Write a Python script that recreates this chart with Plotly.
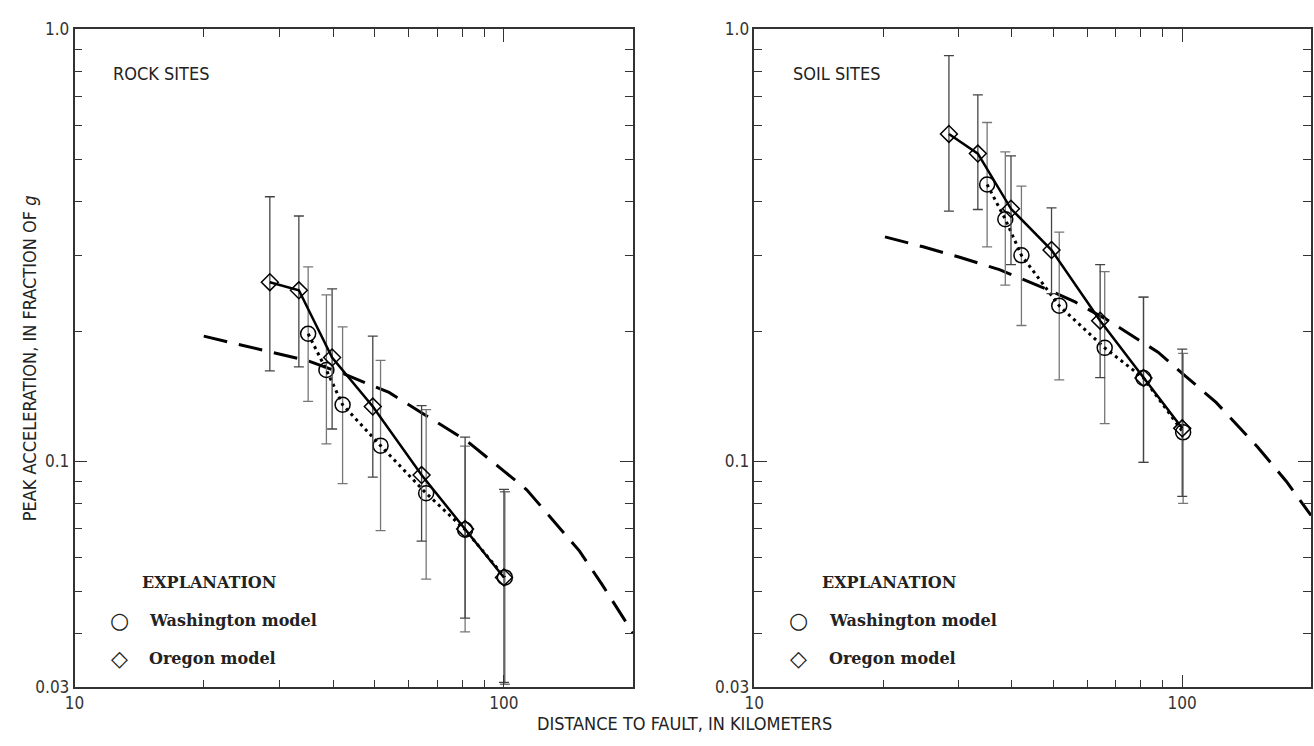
import plotly.graph_objects as go

# ---------------- data ----------------
oregon_dist = [28.5, 33.3, 39.8, 49.5, 64.3, 81.2, 100.0]
washington_dist = [35.0, 38.6, 42.1, 51.6, 65.9, 81.2, 100.5]

# Rock sites
rock_oregon = [0.260, 0.249, 0.174, 0.134, 0.093, 0.0698, 0.0539]
rock_oregon_hi = [0.41, 0.37, 0.251, 0.195, 0.1346, 0.1138, 0.0862]
rock_oregon_lo = [0.162, 0.1656, 0.1189, 0.092, 0.0654, 0.0434, 0.0308]
rock_wash = [0.1975, 0.1628, 0.1353, 0.1088, 0.0844, 0.0695, 0.0539]
rock_wash_hi = [0.282, 0.243, 0.2049, 0.1714, 0.1318, 0.1085, 0.0851]
rock_wash_lo = [0.1377, 0.1098, 0.0889, 0.0692, 0.0534, 0.0403, 0.0305]
rock_model_dist = [20, 35, 42, 54, 64, 82, 100, 113, 150, 169, 200]
rock_model = [0.195, 0.171, 0.160, 0.1445, 0.130, 0.1115, 0.095, 0.086, 0.062, 0.052, 0.040]

# Soil sites
soil_oregon = [0.573, 0.516, 0.3845, 0.3086, 0.2118, 0.156, 0.1193]
soil_oregon_hi = [0.87, 0.7055, 0.5096, 0.3865, 0.2855, 0.2402, 0.182]
soil_oregon_lo = [0.3798, 0.383, 0.2855, 0.2445, 0.1564, 0.0995, 0.083]
soil_wash = [0.4377, 0.3637, 0.300, 0.2293, 0.1832, 0.156, 0.1168]
soil_wash_hi = [0.609, 0.521, 0.434, 0.3396, 0.275, 0.2402, 0.178]
soil_wash_lo = [0.314, 0.256, 0.2064, 0.1545, 0.1224, 0.0995, 0.080]
soil_model_dist = [20.2, 24.8, 30.2, 37.4, 47.1, 56.2, 67.2, 80.3, 87.8, 100, 120, 150, 175, 200]
soil_model = [0.331, 0.314, 0.297, 0.278, 0.253, 0.234, 0.212, 0.190, 0.179, 0.160, 0.137, 0.108, 0.090, 0.075]

x_tick_vals = [10, 100]
x_tick_text = ["10", "100"]
x_minor = [20, 30, 40, 50, 60, 70, 80, 90, 200]
y_tick_vals = [0.03, 0.1, 1.0]
y_tick_text = ["0.03", "0.1", "1.0"]
y_minor = [0.04, 0.05, 0.06, 0.07, 0.08, 0.09, 0.2, 0.3, 0.4, 0.5, 0.6, 0.7, 0.8, 0.9]

panel_titles = ["ROCK SITES", "SOIL SITES"]

# ---------------- figure ----------------
W, H = 1314, 746
NARROW = "Liberation Sans Narrow, DejaVu Sans Condensed, Arial Narrow, sans-serif"
SERIF = "DejaVu Serif, Liberation Serif, serif"

fig = go.Figure()

def add_panel(xa, ya, o, o_hi, o_lo, w, w_hi, w_lo, md, mv):
    fig.add_trace(go.Scatter(
        x=md, y=mv, mode="lines", xaxis=xa, yaxis=ya,
        line=dict(color="black", width=3, dash="24px,12px"), showlegend=False))
    fig.add_trace(go.Scatter(
        x=washington_dist, y=w, mode="lines+markers", xaxis=xa, yaxis=ya,
        line=dict(color="black", width=3, dash="3px,4px"),
        marker=dict(symbol="circle-open", size=15, color="black", line=dict(width=1.5)),
        error_y=dict(type="data", symmetric=False,
                     array=[h - v for h, v in zip(w_hi, w)],
                     arrayminus=[v - l for v, l in zip(w, w_lo)],
                     color="#777777", thickness=1.3, width=5),
        showlegend=False))
    fig.add_trace(go.Scatter(
        x=oregon_dist, y=o, mode="lines+markers", xaxis=xa, yaxis=ya,
        line=dict(color="black", width=2.5),
        marker=dict(symbol="diamond-open", size=13, color="black", line=dict(width=1.5)),
        error_y=dict(type="data", symmetric=False,
                     array=[h - v for h, v in zip(o_hi, o)],
                     arrayminus=[v - l for v, l in zip(o, o_lo)],
                     color="#444444", thickness=1.3, width=5),
        showlegend=False))

add_panel("x", "y", rock_oregon, rock_oregon_hi, rock_oregon_lo,
          rock_wash, rock_wash_hi, rock_wash_lo, rock_model_dist, rock_model)
add_panel("x2", "y2", soil_oregon, soil_oregon_hi, soil_oregon_lo,
          soil_wash, soil_wash_hi, soil_wash_lo, soil_model_dist, soil_model)

# panel pixel geometry
panels = [(65, 628), (750, 1311)]
top_px, bot_px = 20, 696
ydom = [(H - bot_px) / H, (H - top_px) / H]

def xaxis_cfg(x0, x1, anchor):
    return dict(type="log", range=[1, 2.30103], domain=[x0 / W, x1 / W], anchor=anchor,
                showline=True, linecolor="#333333", linewidth=1.5, mirror="ticks",
                ticks="inside", ticklen=13, tickwidth=1.2, tickcolor="#333333",
                tickvals=x_tick_vals, ticktext=x_tick_text, showgrid=False, zeroline=False,
                tickfont=dict(family=NARROW, size=17, color="#333333"),
                minor=dict(tickvals=x_minor, ticks="inside", ticklen=8, tickwidth=1.2,
                           tickcolor="#333333", showgrid=False))

def yaxis_cfg(anchor):
    return dict(type="log", range=[-1.5228787, 0], domain=ydom, anchor=anchor,
                showline=True, linecolor="#333333", linewidth=1.5, mirror="ticks",
                ticks="inside", ticklen=13, tickwidth=1.2, tickcolor="#333333",
                tickvals=y_tick_vals, ticktext=y_tick_text, showgrid=False, zeroline=False,
                tickfont=dict(family=NARROW, size=17, color="#333333"),
                minor=dict(tickvals=y_minor, ticks="inside", ticklen=8, tickwidth=1.2,
                           tickcolor="#333333", showgrid=False))

annotations = []
for i, (x0, x1) in enumerate(panels):
    annotations.append(dict(text=panel_titles[i], x=(x0 + 37) / W, y=(H - 65) / H,
                            xref="paper", yref="paper", xanchor="left", yanchor="middle",
                            showarrow=False, font=dict(family=NARROW, size=18, color="#222")))
    annotations.append(dict(text="<b>EXPLANATION</b>", x=(x0 + 66) / W, y=(H - 588) / H,
                            xref="paper", yref="paper", xanchor="left", yanchor="middle",
                            showarrow=False, font=dict(family=SERIF, size=16, color="#222")))
    for j, (sym, lab) in enumerate([("○", "Washington model"), ("◇", "Oregon model")]):
        yy = (H - (627 + 39 * j)) / H
        annotations.append(dict(text=sym, x=(x0 + 45) / W, y=yy, xref="paper", yref="paper",
                                xanchor="center", yanchor="middle", showarrow=False,
                                font=dict(family="DejaVu Sans", size=22, color="#222")))
        annotations.append(dict(text="<b>" + lab + "</b>", x=(x0 + 73) / W, y=yy,
                                xref="paper", yref="paper", xanchor="left", yanchor="middle",
                                showarrow=False, font=dict(family=SERIF, size=16, color="#222")))

annotations.append(dict(text="PEAK ACCELERATION, IN FRACTION OF <i>g</i>", x=20 / W,
                        y=(H - 358) / H, xref="paper", yref="paper", textangle=-90,
                        xanchor="center", yanchor="middle", showarrow=False,
                        font=dict(family=NARROW, size=18, color="#222")))
annotations.append(dict(text="DISTANCE TO FAULT, IN KILOMETERS", x=680 / W, y=(H - 733) / H,
                        xref="paper", yref="paper", xanchor="center", yanchor="middle",
                        showarrow=False, font=dict(family=NARROW, size=18, color="#222")))

fig.update_layout(
    width=W, height=H, margin=dict(l=0, r=0, t=0, b=0),
    paper_bgcolor="white", plot_bgcolor="white",
    xaxis=xaxis_cfg(panels[0][0], panels[0][1], "y"),
    yaxis=yaxis_cfg("x"),
    xaxis2=xaxis_cfg(panels[1][0], panels[1][1], "y2"),
    yaxis2=yaxis_cfg("x2"),
    annotations=annotations, showlegend=False,
)

fig.write_html("out.html", config={"displayModeBar": False},
               post_script="document.body.style.margin='0';")
